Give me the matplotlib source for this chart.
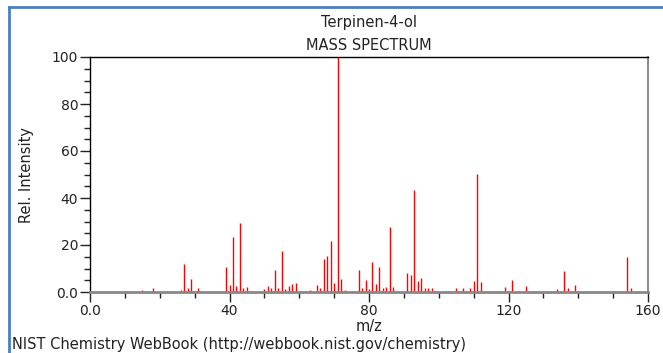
import matplotlib
matplotlib.use("Agg")
import matplotlib.pyplot as plt
from matplotlib.ticker import MultipleLocator, FixedLocator, FixedFormatter

# Terpinen-4-ol electron ionisation spectrum (m/z, relative intensity)
mz = [14, 15, 18, 26, 27, 28, 29, 31, 37, 38, 39, 40, 41, 42, 43, 44, 45,
      50, 51, 52, 53, 54, 55, 56, 57, 58, 59, 62, 63, 65, 66, 67, 68, 69,
      70, 71, 72, 73, 77, 78, 79, 80, 81, 82, 83, 84, 85, 86, 87, 91, 92,
      93, 94, 95, 96, 97, 98, 99, 103, 105, 106, 107, 108, 109, 110, 111,
      112, 113, 115, 117, 119, 120, 121, 122, 123, 125, 126, 127, 134, 135,
      136, 137, 139, 140, 154, 155]
intensity = [0.6, 1.0, 1.5, 0.8, 11.8, 1.8, 5.4, 1.8, 0.5, 0.6, 10.5, 3.0,
             23.5, 2.7, 29.4, 1.6, 2.2, 1.1, 2.7, 1.6, 9.3, 1.6, 17.4, 1.4,
             2.6, 3.3, 4.0, 0.6, 0.9, 3.0, 1.6, 14.2, 15.3, 21.7, 4.0, 100.0,
             5.5, 0.7, 9.4, 1.7, 5.1, 1.3, 12.6, 3.3, 10.5, 1.7, 2.2, 27.7,
             2.2, 8.0, 7.2, 43.5, 4.7, 5.8, 1.6, 1.6, 1.6, 0.5, 0.6, 1.5, 0.6,
             1.8, 0.6, 1.6, 4.8, 50.1, 4.3, 0.6, 0.6, 0.6, 2.2, 0.6, 5.1, 0.6,
             0.6, 2.6, 0.6, 0.6, 1.3, 0.6, 8.9, 1.6, 3.0, 0.6, 14.9, 1.6]

x_ticks = [0, 40, 80, 120, 160]
x_labels = ["0.0", "40", "80", "120", "160"]
y_ticks = [0, 20, 40, 60, 80, 100]
y_labels = ["0.0", "20", "40", "60", "80", "100"]

plt.rcParams['font.family'] = ['DejaVu Sans']

W, H = 663, 353
fig = plt.figure(figsize=(W / 100, H / 100), dpi=100)
ax = fig.add_axes([90 / W, 61 / H, 558 / W, 235 / H])

ax.vlines(mz, 0, intensity, colors="#ff0000", linewidth=1.0)

ax.set_xlim(0, 160)
ax.set_ylim(0, 100)

ax.xaxis.set_major_locator(FixedLocator(x_ticks))
ax.xaxis.set_major_formatter(FixedFormatter(x_labels))
ax.xaxis.set_minor_locator(MultipleLocator(10))
ax.yaxis.set_major_locator(FixedLocator(y_ticks))
ax.yaxis.set_major_formatter(FixedFormatter(y_labels))
ax.yaxis.set_minor_locator(MultipleLocator(5))

ax.tick_params(which="major", length=7, width=1, color="#222222",
               labelsize=10, labelcolor="#222222", direction="out", pad=1.5)
ax.tick_params(which="minor", length=4, width=1, color="#222222",
               direction="out")

ax.spines["top"].set_color("black")
ax.spines["top"].set_linewidth(1)
ax.spines["left"].set_color("black")
ax.spines["left"].set_linewidth(1)
ax.spines["right"].set_color("#777777")
ax.spines["right"].set_linewidth(1.2)
ax.spines["bottom"].set_color("#888888")
ax.spines["bottom"].set_linewidth(2)

txt = dict(fontsize=10.5, color="#222222")
fig.text(369 / W, 1 - 327 / H, "m/z", ha="center", va="center", **txt)
fig.text(27 / W, 1 - 175 / H, "Rel. Intensity", ha="center", va="center",
         rotation=90, **txt)
fig.text(369 / W, 1 - 22 / H, "Terpinen-4-ol", ha="center", va="center",
         **txt)
fig.text(369 / W, 1 - 45 / H, "MASS SPECTRUM", ha="center", va="center",
         **txt)
fig.text(12 / W, 1 - 344 / H,
         "NIST Chemistry WebBook (http://webbook.nist.gov/chemistry)",
         ha="left", va="center", **txt)

# thin blue frame along the top and left edges
frame = "#4a7fc1"
fig.add_artist(plt.Line2D([9 / W, 1], [1 - 7 / H, 1 - 7 / H],
                          transform=fig.transFigure, color=frame, linewidth=2))
fig.add_artist(plt.Line2D([9 / W, 9 / W], [0, 1 - 7 / H],
                          transform=fig.transFigure, color=frame, linewidth=2))

fig.savefig("out.png", dpi=100)
